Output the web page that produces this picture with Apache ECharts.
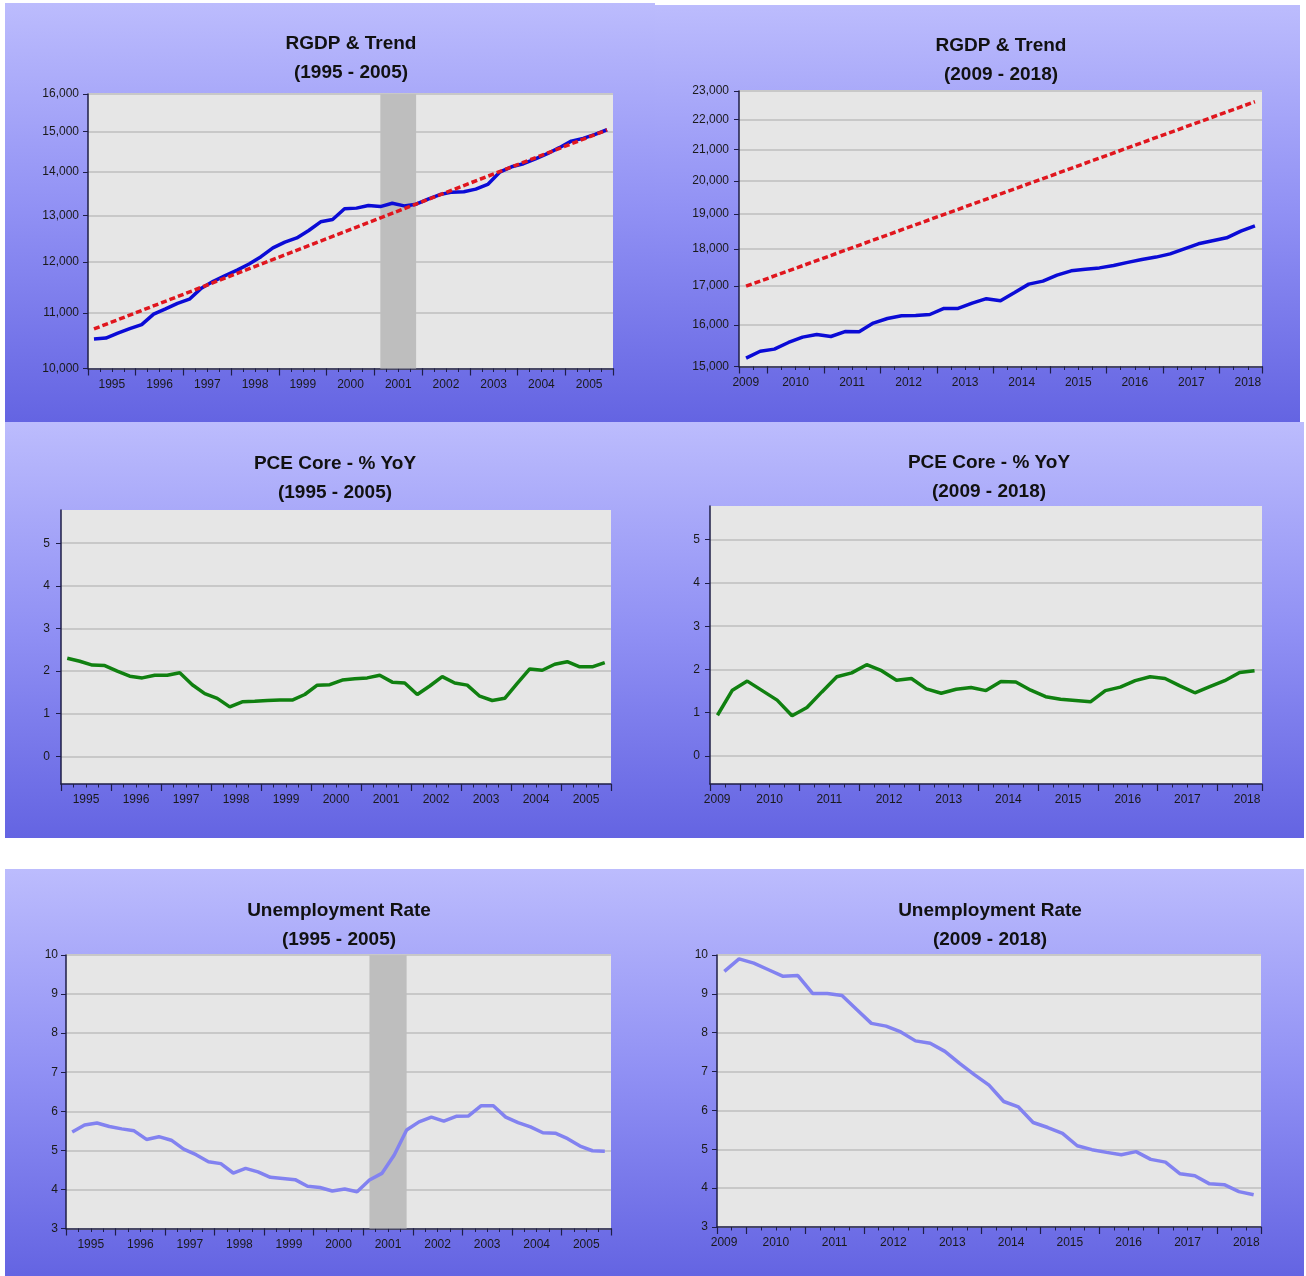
<!DOCTYPE html>
<html>
<head>
<meta charset="utf-8">
<title>RGDP, PCE Core and Unemployment</title>
<script src="https://cdn.jsdelivr.net/npm/echarts@6/dist/echarts.min.js"></script>
<style>
  html, body { margin: 0; padding: 0; background: #fff; }
  #chart { width: 1306px; height: 1276px; }
</style>
</head>
<body>
<div id="chart"></div>
<script>
// quarterly series
// 1995Q1 - 2005Q4
const rgdp9505 = [10520, 10535, 10625, 10705, 10780, 10975, 11075, 11180, 11260, 11475,
  11610, 11725, 11835, 11960, 12110, 12295, 12415, 12505, 12665, 12855,
  12905, 13145, 13160, 13220, 13195, 13270, 13210, 13250, 13365, 13470,
  13525, 13535, 13595, 13705, 13995, 14125, 14200, 14320, 14445, 14595,
  14760, 14830, 14930, 15050];
const trend9505 = [10700, 15045]; // log-linear trend, first and last quarter
const pce9505 = [2.30, 2.23, 2.14, 2.13, 2.00, 1.88, 1.84, 1.90, 1.90, 1.96,
  1.68, 1.47, 1.36, 1.16, 1.28, 1.29, 1.31, 1.32, 1.32, 1.45,
  1.67, 1.68, 1.79, 1.82, 1.84, 1.90, 1.74, 1.72, 1.45, 1.65,
  1.87, 1.72, 1.67, 1.41, 1.31, 1.36, 1.71, 2.05, 2.02, 2.16,
  2.22, 2.10, 2.10, 2.20];
const unrate9505 = [5.47, 5.65, 5.70, 5.61, 5.55, 5.50, 5.28, 5.35, 5.26, 5.03,
  4.89, 4.71, 4.66, 4.42, 4.54, 4.45, 4.31, 4.28, 4.25, 4.08,
  4.05, 3.96, 4.01, 3.94, 4.24, 4.41, 4.88, 5.52, 5.73, 5.85,
  5.75, 5.87, 5.88, 6.14, 6.14, 5.85, 5.71, 5.60, 5.45, 5.44,
  5.30, 5.11, 4.99, 4.98];
const recession2001 = [2001.125, 2001.875];

// 2009Q3 - 2018Q3
const rgdp0918 = [15195, 15360, 15410, 15570, 15700, 15765, 15715, 15835, 15830, 16045,
  16160, 16230, 16235, 16260, 16415, 16415, 16550, 16665, 16610, 16825,
  17045, 17125, 17285, 17400, 17445, 17480, 17545, 17630, 17710, 17775,
  17865, 18005, 18145, 18230, 18315, 18505, 18660];
const trend0918 = [16990, 22620];
const pce0918 = [0.94, 1.52, 1.73, 1.51, 1.29, 0.93, 1.12, 1.48, 1.83, 1.92,
  2.11, 1.97, 1.75, 1.79, 1.55, 1.45, 1.54, 1.58, 1.51, 1.72,
  1.71, 1.52, 1.37, 1.31, 1.28, 1.25, 1.51, 1.59, 1.74, 1.83,
  1.79, 1.62, 1.46, 1.60, 1.74, 1.93, 1.97];
const unrate0918 = [9.58, 9.90, 9.79, 9.62, 9.45, 9.47, 9.01, 9.01, 8.96, 8.60,
  8.24, 8.17, 8.02, 7.79, 7.73, 7.52, 7.21, 6.92, 6.65, 6.23,
  6.09, 5.69, 5.56, 5.41, 5.09, 4.99, 4.92, 4.86, 4.94, 4.74,
  4.67, 4.37, 4.32, 4.11, 4.09, 3.91, 3.83];

// axis labels
const years9505 = [1995, 1996, 1997, 1998, 1999, 2000, 2001, 2002, 2003, 2004, 2005];
const years0918 = [2009, 2010, 2011, 2012, 2013, 2014, 2015, 2016, 2017, 2018];
const rgdpTicks9505 = [10000, 11000, 12000, 13000, 14000, 15000, 16000];
const rgdpTicks0918 = [15000, 16000, 17000, 18000, 19000, 20000, 21000, 22000, 23000];
const pceTicks = [0, 1, 2, 3, 4, 5];

const FONT = 'Arial, "Liberation Sans", sans-serif';
const AXIS_COLOR = '#1e1e46';
const BLUE = '#0b0bd6', RED = '#e0161e', GREEN = '#108010', LILAC = '#8282f0';

const early = { min: 1995, max: 2006, startYear: 1995, startQ: 0, years: years9505 };
const late = { min: 2009.5, max: 2018.75, startYear: 2009, startQ: 2, years: years0918 };

// x position of the i-th quarter (middle of the quarter)
function quarterX(period, i) {
  return period.startYear + (period.startQ + i + 0.5) / 4;
}
function pairs(period, values) {
  return values.map((v, i) => [quarterX(period, i), v]);
}
function trendLine(period, ends, n) {
  return [[quarterX(period, 0), ends[0]], [quarterX(period, n - 1), ends[1]]];
}
function yearTicks(period) {
  const t = [period.min];
  for (let y = Math.ceil(period.min); y <= period.max; y++) if (y > period.min) t.push(y);
  if (t[t.length - 1] !== period.max) t.push(period.max);
  return t;
}
function quarterTicks(period) {
  const t = [];
  for (let x = period.min; x <= period.max + 1e-9; x += 0.25) t.push(x);
  return t;
}
function labelPositions(period) {
  return period.years.map(y => Math.min(Math.max(y + 0.5, period.min + 0.12), period.max - 0.25));
}
const comma = v => String(Math.round(v)).replace(/\B(?=(\d{3})+(?!\d))/g, ',');

const panels = [
  { box: [5, 3, 650, 419], title: 'RGDP & Trend\n(1995 - 2005)', tx: 351, ty: 29,
    grid: [88, 94, 525, 274.5], period: early, yLog: true, yMin: 10000, yMax: 16000,
    yTicks: rgdpTicks9505, yMargin: 9, shade: true,
    lines: [{ data: rgdp9505, color: BLUE }, { trend: trend9505, n: rgdp9505.length, color: RED }] },
  { box: [655, 5, 645, 417], title: 'RGDP & Trend\n(2009 - 2018)', tx: 1001, ty: 31.5,
    grid: [739, 91, 523, 275.5], period: late, yLog: true, yMin: 15000, yMax: 23000,
    yTicks: rgdpTicks0918, yMargin: 10,
    lines: [{ data: rgdp0918, color: BLUE }, { trend: trend0918, n: rgdp0918.length, color: RED }] },
  { box: [5, 422, 650, 416], title: 'PCE Core - % YoY\n(1995 - 2005)', tx: 335, ty: 449.5,
    grid: [61, 510, 550, 274], period: early, yMin: -0.65, yMax: 5.78,
    yTicks: pceTicks, yMargin: 11,
    lines: [{ data: pce9505, color: GREEN }] },
  { box: [655, 422, 649, 416], title: 'PCE Core - % YoY\n(2009 - 2018)', tx: 989, ty: 448,
    grid: [710, 506, 552, 278], period: late, yMin: -0.65, yMax: 5.78,
    yTicks: pceTicks, yMargin: 10,
    lines: [{ data: pce0918, color: GREEN }] },
  { box: [5, 869, 650, 407], title: 'Unemployment Rate\n(1995 - 2005)', tx: 339, ty: 896,
    grid: [66, 955, 545, 273.5], period: early, yMin: 3, yMax: 10, yInterval: 1, yMargin: 8, shade: true,
    lines: [{ data: unrate9505, color: LILAC }] },
  { box: [655, 869, 649, 407], title: 'Unemployment Rate\n(2009 - 2018)', tx: 990, ty: 896,
    grid: [717, 955, 544, 272], period: late, yMin: 3, yMax: 10, yInterval: 1, yMargin: 9,
    lines: [{ data: unrate0918, color: LILAC }] }
];

const option = {
  animation: false,
  title: [], grid: [], xAxis: [], yAxis: [], series: [],
  graphic: { elements: [] }
};

panels.forEach((p, i) => {
  option.graphic.elements.push({
    type: 'rect', z: -10, silent: true,
    shape: { x: p.box[0], y: p.box[1], width: p.box[2], height: p.box[3] },
    style: {
      fill: { type: 'linear', x: 0, y: 0, x2: 0, y2: 1,
        colorStops: [{ offset: 0, color: '#bcbcfd' }, { offset: 0.5, color: '#9090f4' }, { offset: 1, color: '#6464e2' }] }
    }
  });

  option.title.push({
    text: p.title, left: p.tx, top: p.ty, textAlign: 'center', padding: 0,
    textStyle: { fontFamily: FONT, fontSize: 19, fontWeight: 'bold', color: '#111', lineHeight: 29 }
  });

  option.grid.push({
    left: p.grid[0], top: p.grid[1], width: p.grid[2], height: p.grid[3],
    show: true, backgroundColor: '#e6e6e6', borderWidth: 0, containLabel: false
  });

  const per = p.period;
  // main x axis: year ticks and labels
  option.xAxis.push({
    type: 'value', gridIndex: i, position: 'bottom', min: per.min, max: per.max,
    axisLine: { show: true, onZero: false, lineStyle: { color: AXIS_COLOR, width: 1.5 } },
    axisTick: { show: true, length: 7, customValues: yearTicks(per), lineStyle: { color: AXIS_COLOR, width: 1.2 } },
    axisLabel: { customValues: labelPositions(per), formatter: v => String(Math.floor(v)),
      margin: 10, fontFamily: FONT, fontSize: 12, color: '#1a1a1a' },
    splitLine: { show: false }
  });
  // quarter ticks
  option.xAxis.push({
    type: 'value', gridIndex: i, position: 'bottom', min: per.min, max: per.max,
    axisLine: { show: false, onZero: false },
    axisTick: { show: true, length: 3.5, customValues: quarterTicks(per), lineStyle: { color: AXIS_COLOR, width: 1 } },
    axisLabel: { show: false },
    splitLine: { show: false }
  });

  const y = {
    type: p.yLog ? 'log' : 'value', gridIndex: i, min: p.yMin, max: p.yMax,
    axisLine: { show: true, onZero: false, lineStyle: { color: AXIS_COLOR, width: 1.5 } },
    axisTick: { show: true, length: 5, lineStyle: { color: AXIS_COLOR, width: 1 } },
    axisLabel: { margin: p.yMargin, fontFamily: FONT, fontSize: 12, color: '#1a1a1a',
      formatter: p.yLog ? comma : v => String(Math.round(v)) },
    splitLine: { show: true, lineStyle: { color: '#c8c8c8', width: 2 } }
  };
  if (p.yLog) y.logBase = 10;
  if (p.yInterval) y.interval = p.yInterval;
  if (p.yTicks) {
    y.axisTick.customValues = p.yTicks;
    y.axisLabel.customValues = p.yTicks;
  }
  option.yAxis.push(y);

  p.lines.forEach((l, k) => {
    const s = {
      type: 'line', xAxisIndex: 2 * i, yAxisIndex: i, symbol: 'none', silent: true, z: 2 + k,
      data: l.trend ? trendLine(per, l.trend, l.n) : pairs(per, l.data),
      lineStyle: { color: l.color, width: 3.5, type: l.trend ? [6, 3] : 'solid' }
    };
    if (p.shade && k === 0) {
      s.markArea = {
        silent: true, itemStyle: { color: '#bebebe' },
        data: [[{ xAxis: recession2001[0] }, { xAxis: recession2001[1] }]]
      };
    }
    option.series.push(s);
  });
});

const myChart = echarts.init(document.getElementById('chart'), null, { renderer: 'canvas' });
myChart.setOption(option);
</script>
</body>
</html>
